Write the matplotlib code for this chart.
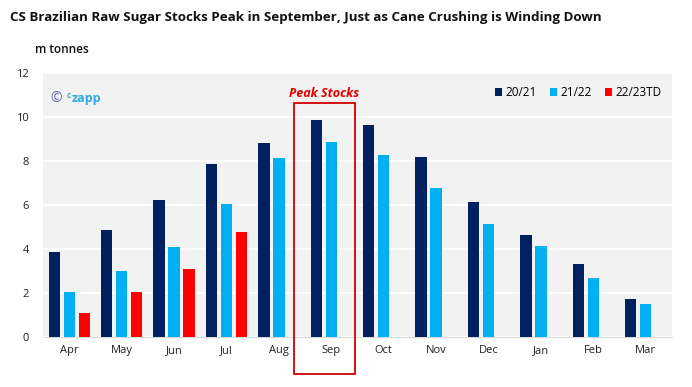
import numpy as np
import matplotlib.pyplot as plt
import matplotlib.patches as patches

months = ['Apr', 'May', 'Jun', 'Jul', 'Aug', 'Sep', 'Oct', 'Nov', 'Dec', 'Jan', 'Feb', 'Mar']
s2021 = [3.85, 4.85, 6.21, 7.88, 8.81, 9.86, 9.63, 8.17, 6.12, 4.62, 3.34, 1.73]
s2122 = [2.05, 3.01, 4.10, 6.03, 8.13, 8.86, 8.26, 6.77, 5.12, 4.15, 2.69, 1.50]
s2223 = [1.09, 2.05, 3.10, 4.78]
labels = ['20/21', '21/22', '22/23TD']
colors = ['#002060', '#00B0F0', '#FF0000']
peak_month = 'Sep'

plt.rcParams['font.family'] = ['Open Sans', 'DejaVu Sans']

fig = plt.figure(figsize=(6.92, 3.87), dpi=100)
ax = fig.add_axes([0.0621, 0.1292, 0.909, 0.682])
ax.set_facecolor('#F2F2F2')

x = np.arange(len(months))
step = 0.286
w = 0.216
ax.bar(x - step, s2021, w, color=colors[0], label=labels[0], zorder=3)
ax.bar(x, s2122, w, color=colors[1], label=labels[1], zorder=3)
ax.bar(np.arange(len(s2223)) + step, s2223, w, color=colors[2], label=labels[2], zorder=3)

ax.set_xlim(-0.5, len(months) - 0.5)
ax.set_ylim(0, 12)
ax.set_yticks(range(0, 13, 2))
ax.set_xticks(x)
ax.set_xticklabels(months)
ax.grid(axis='y', color='white', linewidth=1.2, zorder=0)
for s in ['top', 'right', 'left']:
    ax.spines[s].set_visible(False)
ax.spines['bottom'].set_color('#D9D9D9')
ax.tick_params(length=0, labelsize=8, colors='#222222', pad=6)
ax.tick_params(axis='y', pad=10)

# peak box
pi = months.index(peak_month)
rect = patches.Rectangle((pi - 0.72, -1.67), 1.18, 12.33, fill=False,
                         edgecolor='#D00000', linewidth=1.3, clip_on=False, zorder=5)
ax.add_patch(rect)
ax.text(pi - 0.13, 10.78, 'Peak Stocks', color='#E00000', fontsize=9,
        fontweight='bold', style='italic', ha='center', va='bottom')

ax.legend(loc='upper right', ncol=3, frameon=False, fontsize=8.5,
          handlelength=0.6, handleheight=0.6, handletextpad=0.3,
          columnspacing=1.1, bbox_to_anchor=(1.0, 0.99))

# watermark
ax.text(0.011, 0.905, '©', transform=ax.transAxes, color='#6060B0', fontsize=10,
        va='center', ha='left')
ax.text(0.038, 0.915, 'c', transform=ax.transAxes, color='#2EA8DF', fontsize=5.5,
        va='center', ha='left', fontweight='bold')
ax.text(0.046, 0.905, 'zapp', transform=ax.transAxes, color='#2EA8DF', fontsize=9,
        va='center', ha='left', fontweight='bold')

fig.text(0.014, 0.955, 'CS Brazilian Raw Sugar Stocks Peak in September, Just as Cane Crushing is Winding Down',
         fontsize=9.6, fontweight='bold', ha='left', va='center', color='#111111')
fig.text(0.05, 0.873, 'm tonnes', fontsize=8.5, fontweight='semibold', ha='left', va='center', color='#111111')

fig.savefig('out.png', dpi=100, facecolor='white')
